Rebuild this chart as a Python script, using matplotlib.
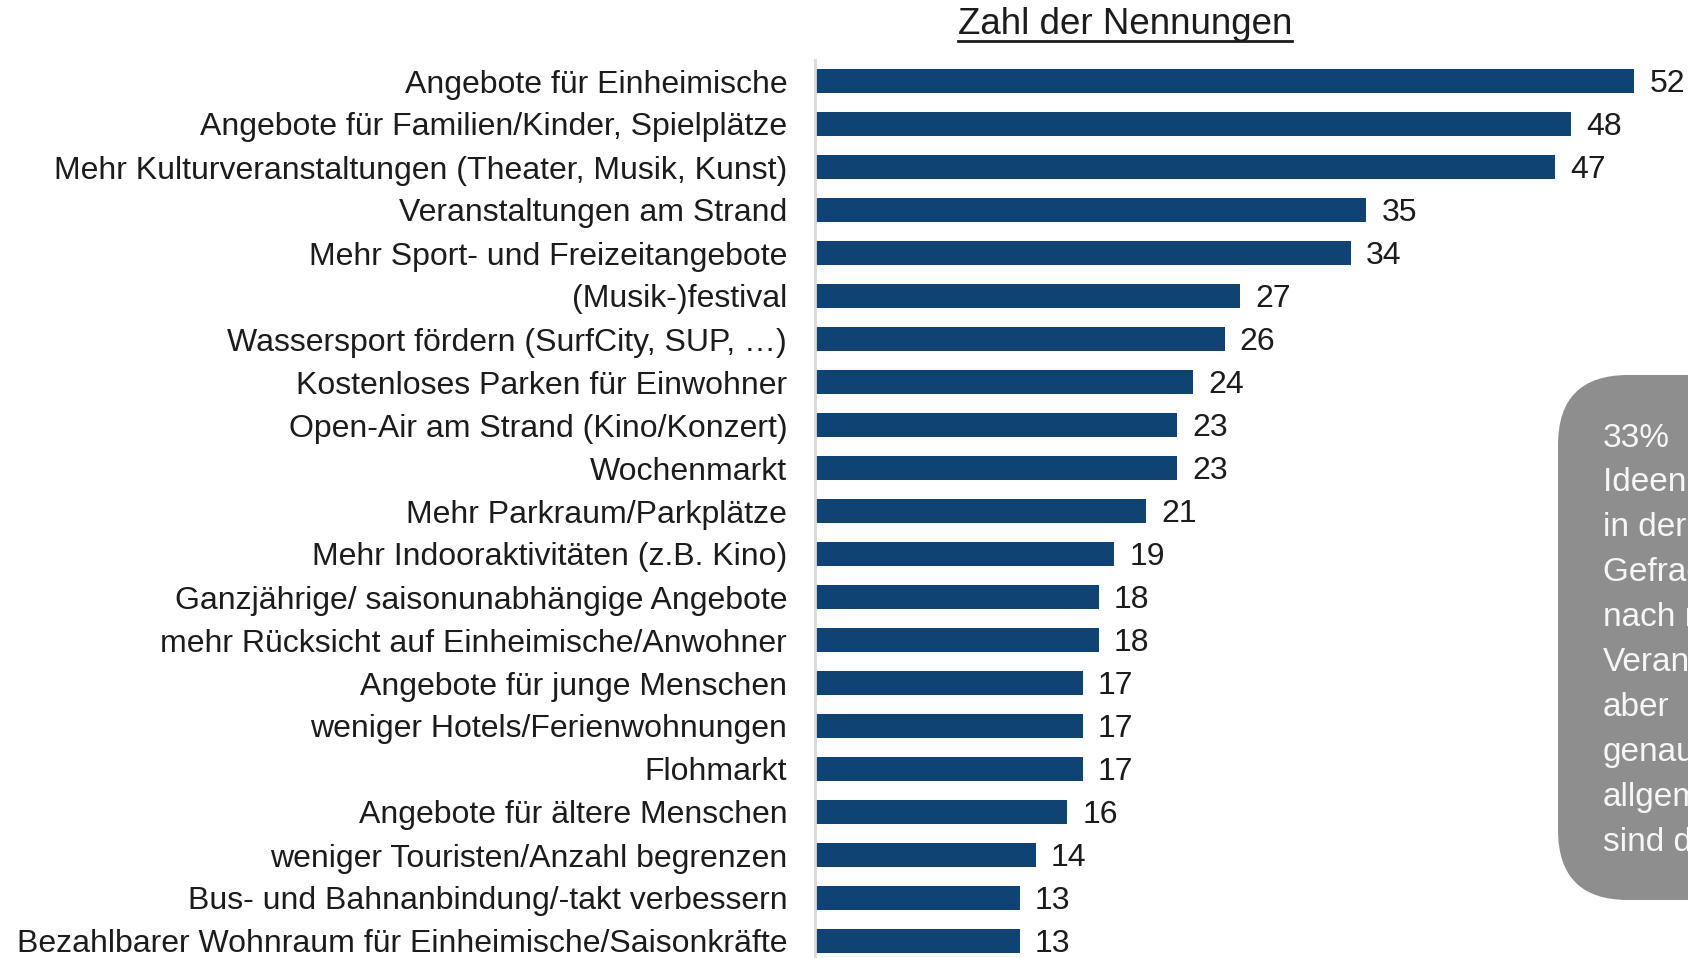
import matplotlib
matplotlib.use("Agg")
import matplotlib.pyplot as plt
from matplotlib.patches import FancyBboxPatch
from matplotlib.lines import Line2D

plt.rcParams['font.family'] = ['Liberation Sans', 'DejaVu Sans']

categories = [
    "Angebote für Einheimische",
    "Angebote für Familien/Kinder, Spielplätze",
    "Mehr Kulturveranstaltungen (Theater, Musik, Kunst)",
    "Veranstaltungen am Strand",
    "Mehr Sport- und Freizeitangebote",
    "(Musik-)festival",
    "Wassersport fördern (SurfCity, SUP, …)",
    "Kostenloses Parken für Einwohner",
    "Open-Air am Strand (Kino/Konzert)",
    "Wochenmarkt",
    "Mehr Parkraum/Parkplätze",
    "Mehr Indooraktivitäten (z.B. Kino)",
    "Ganzjährige/ saisonunabhängige Angebote",
    "mehr Rücksicht auf Einheimische/Anwohner",
    "Angebote für junge Menschen",
    "weniger Hotels/Ferienwohnungen",
    "Flohmarkt",
    "Angebote für ältere Menschen",
    "weniger Touristen/Anzahl begrenzen",
    "Bus- und Bahnanbindung/-takt verbessern",
    "Bezahlbarer Wohnraum für Einheimische/Saisonkräfte",
]
values = [52, 48, 47, 35, 34, 27, 26, 24, 23, 23, 21, 19, 18, 18, 17, 17, 17, 16, 14, 13, 13]

title = "Zahl der Nennungen"
note_lines = ["33%", "Ideen fallen", "in der Regel", "Gefragt wird", "nach mehr",
              "Veranstaltungen,", "aber", "genauer", "allgemein", "sind die"]

BAR = "#0E4373"
TXT = "#1c1c1c"
W, H = 1688, 958
FS = 23

fig = plt.figure(figsize=(W / 100, H / 100), dpi=100)

# main bar axes (pixel geometry -> figure fractions)
x0, x1 = 815, 1688
top, bot = 59.5, 962.5
ax = fig.add_axes([x0 / W, (H - bot) / H, (x1 - x0) / W, (bot - top) / H])
ypos = list(range(len(categories)))
ax.barh(ypos, values, height=0.55, color=BAR, zorder=2)
ax.set_xlim(0, (x1 - x0) / 15.75)
ax.set_ylim(len(categories) - 0.5, -0.5)
ax.set_yticks(ypos)
ax.set_yticklabels(categories, fontsize=FS, color=TXT)
ax.tick_params(axis='y', length=0, pad=20)
ax.set_xticks([])
for s in ['top', 'right', 'bottom']:
    ax.spines[s].set_visible(False)
ax.spines['left'].set_color('#d9d9d9')
ax.spines['left'].set_linewidth(2)

for y, v in zip(ypos, values):
    ax.annotate(str(v), (v, y), xytext=(11, -2), textcoords='offset points',
                va='center', ha='left', fontsize=FS, color=TXT)

# overlay axes in pixel units for the title and the note box
ov = fig.add_axes([0, 0, 1, 1])
ov.set_xlim(0, W)
ov.set_ylim(0, H)
ov.axis('off')

t = ov.text(1125, H - 24, title, ha='center', va='center', fontsize=26.5, color=TXT)
fig.canvas.draw()
bb = t.get_window_extent(fig.canvas.get_renderer())
ov.add_line(Line2D([bb.x0, bb.x1], [bb.y0 + 1, bb.y0 + 1], color=TXT, lw=2))

box = FancyBboxPatch((1558, H - 900), 300, 525,
                     boxstyle="round,pad=0,rounding_size=70",
                     facecolor='#8e8e8e', edgecolor='none', clip_on=True)
ov.add_patch(box)
for i, line in enumerate(note_lines):
    ov.text(1603, H - (438 + i * 44.9), line, ha='left', va='center',
            fontsize=24, color='#f6f6f6', clip_on=True)

fig.savefig("out.png", dpi=100)
